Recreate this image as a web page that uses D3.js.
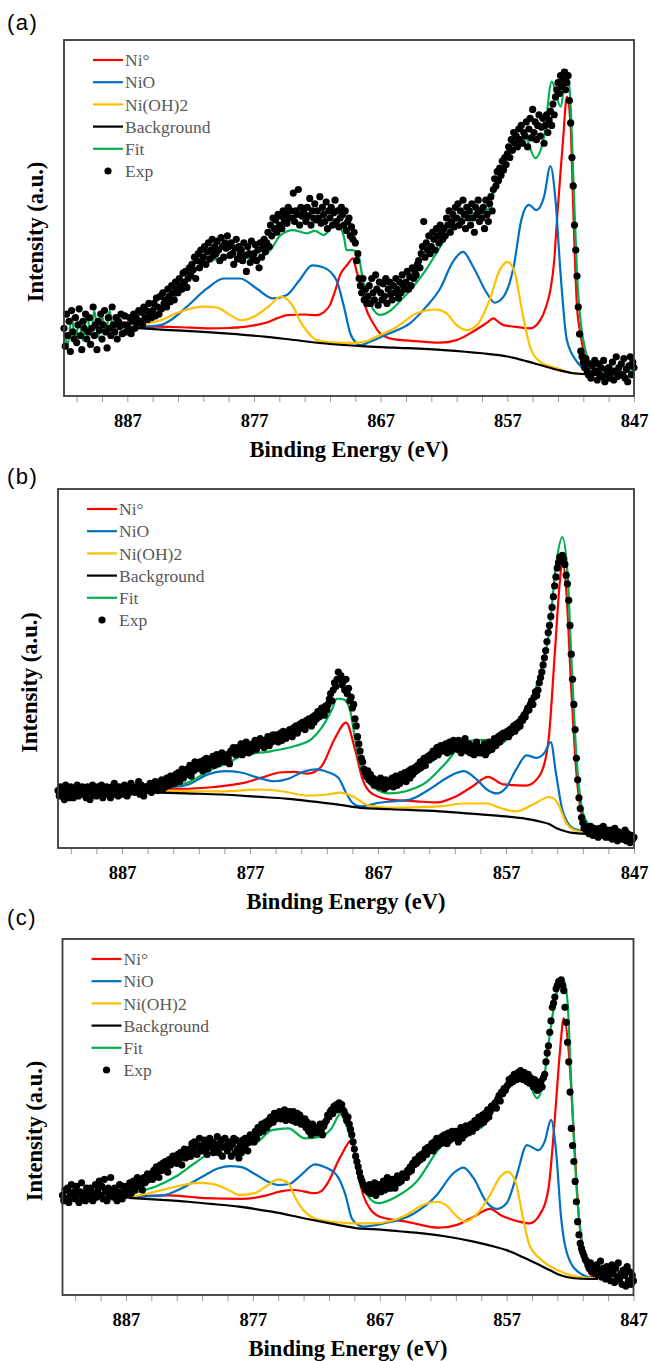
<!DOCTYPE html>
<html>
<head>
<meta charset="utf-8">
<script src="https://cdn.jsdelivr.net/npm/d3@7"></script>
<style>
  body { margin: 0; background: #fff; }
  svg text { font-family: "Liberation Serif", serif; }
  svg text.panel-label { font-family: "Liberation Sans", sans-serif; }
  svg .tick text { font-family: "Liberation Serif", serif; font-weight: bold; }
</style>
</head>
<body>
<div id="chart"></div>
<script>
// Ni 2p XPS fits, three samples (a), (b), (c)
// intensities are in arbitrary units, 0 = bottom of the frame, 100 = top

var seriesNames = ["Ni°", "NiO", "Ni(OH)2", "Background", "Fit", "Exp"]
var seriesColors = ["#ff0000", "#0070c0", "#ffc000", "#000000", "#00b050", "#000000"]

var xDomain = [892, 847]
var minorTicks = [891, 889, 887, 885, 883, 881, 879, 877, 875, 873, 871, 869, 867, 865, 863, 861, 859, 857, 855, 853, 851, 849, 847]
var majorTicks = [887, 877, 867, 857, 847]

// measured points start at 892.0 eV and go down in 0.1 eV steps (451 points)
var expStart = 892.0
var expStep = 0.1

// ---------- panel (a) ----------
var niA = [[886.5,19.3],[884.5,19.5],[882,19.2],[880.5,19.0],[879,19.1],[877.8,19.4],[876.8,20.0],[876,20.6],[875.2,21.8],[874.4,22.7],[873,22.9],[872.1,22.7],[871.5,23.5],[871,25.6],[870.6,29.5],[870.2,34.0],[869.6,37.0],[869.2,38.7],[868.9,35.0],[868.5,30.0],[868.2,25.1],[867.6,20.5],[867.05,17.6],[866.3,16.2],[865,15.6],[863.5,15.2],[862.3,15.0],[861,15.7],[859.7,18.1],[858.6,20.6],[858.1,21.8],[857.7,20.8],[857.3,19.9],[856.5,19.5],[855.2,19.0],[854.4,21.3],[854,24.5],[853.6,29.8],[853.3,38],[853.1,48.5],[852.8,63],[852.6,71.9],[852.3,84.1],[852.0,75.6],[851.8,53.2],[851.5,25.1],[851.2,17],[851.0,12.9],[850.6,9.5],[850.2,7.3],[849.8,6.2]]
var nioA = [[886.3,19.4],[885.3,19.6],[884.4,19.9],[883.5,21.5],[882.3,25.1],[880.7,30.2],[879.4,33.0],[878.1,33.0],[876.8,30.2],[875.5,27.4],[874.4,28.4],[873.4,32.6],[872.4,36.7],[871.5,36.1],[870.5,32.6],[869.9,25.1],[869.4,17.6],[868.9,14.8],[868.6,14.3],[867.8,15.3],[866.3,17.6],[864.7,20.4],[863.4,25.1],[862.3,30.2],[861.3,37.7],[860.5,40.5],[859.7,36.3],[858.6,28.8],[858.0,26.2],[857.3,27.9],[856.5,36.3],[855.9,49.4],[855.3,53.7],[854.7,52.2],[854.1,56.0],[853.6,64.6],[853.2,55.1],[852.8,34.5],[852.3,15.7],[851.5,9.6],[850.5,6.8],[849.8,6.2]]
var nioh2A = [[886.5,19.4],[885.5,20.3],[884.4,21.3],[882.8,23.7],[881.0,25.1],[879.9,24.8],[879,23.0],[878.0,21.3],[876.8,22.7],[875.7,25.6],[874.9,27.9],[873.9,25.1],[873.4,21.3],[872.8,18.1],[872.05,15.7],[870.5,15.0],[869,14.9],[868,15.5],[867.6,16.2],[865.7,19.5],[864.2,23.2],[862.6,24.3],[861.8,23.2],[861.0,19.9],[860.2,18.5],[859.4,19.9],[858.4,27.0],[857.6,35.4],[857.0,37.7],[856.4,34.5],[855.9,25.1],[855.2,13.8],[854.4,9.6],[853.1,7.8],[851.8,6.4],[849.8,6.0]]
var bgA = [[886.8,19.2],[884,18.6],[881,18.0],[879,17.5],[876,16.6],[874,15.8],[871,14.6],[868.5,14.0],[866,13.6],[862,12.9],[859,12.0],[857,11.1],[855.5,9.8],[854.4,8.7],[853,7.3],[851.8,6.4],[850.5,6.1],[849.8,6.0]]
var fitA = [[892,19],[891.7,14.5],[891.4,22],[891.1,16],[890.8,21],[890.5,15.5],[890.2,23.5],[889.9,17],[889.6,24],[889.3,16.5],[889,22.5],[888.7,17.5],[888.4,24],[888.1,18],[887.8,21],[887.5,19.5],[887.2,20],[886.8,19.2],[885,22.3],[883.7,26.0],[882.8,29.8],[881.3,36.3],[880.2,38.2],[878.6,39.1],[877.0,38.7],[875.7,41.0],[874.9,45.2],[873.9,46.6],[872.8,45.7],[872.2,46.4],[871.5,45.2],[870.5,48.5],[869.9,44.7],[869.7,41.0],[869.2,41.0],[868.8,40.1],[868.4,32.6],[867.7,25.1],[867.05,22.8],[864.9,28.8],[863.6,34.5],[862.3,41.9],[861.0,49.4],[859.7,51.3],[858.6,52.2],[857.8,60.7],[857.05,68.2],[856.5,71.9],[855.6,72.8],[854.8,66.8],[854.1,72.8],[853.5,88.3],[852.8,81.3],[852.3,91.6],[852.0,81.3],[851.8,62.5],[851.5,34.5],[851.0,15.7],[850.2,7.8],[849.1,6.8],[848.7,8],[848.4,5.5],[848.1,7.5],[847.8,5],[847.5,8.5],[847.2,6],[847,7]]
var expA = [
  19, 14, 23, 17, 21, 12.5, 24, 18, 16, 22,
  15, 20, 24.5, 17, 13, 21, 19, 23, 16, 18,
  22, 14.5, 19, 25, 17, 20, 13, 21, 18.5, 23,
  16, 20, 24, 18, 13.5, 22, 19, 17, 25, 20,
  18, 22, 16, 21, 19.5, 23, 17.5, 20, 22.5, 18,
  20, 19, 22, 17.5, 21, 23, 19, 22, 20.5, 24,
  21, 23.5, 20, 25, 22, 24, 21.5, 26, 23, 22,
  24, 26, 22.5, 27.5, 25, 23, 28, 24.5, 29, 26,
  27, 25, 30, 28, 26.5, 31, 29, 27, 32, 30,
  29, 33, 31, 30, 34.5, 32, 35, 30.5, 33, 36,
  34, 37, 35.5, 39, 33, 38, 40, 36, 41, 37.5,
  39, 42, 37, 40.5, 43, 38.5, 41, 44, 39.5, 42,
  40, 43.5, 41, 38, 44.5, 42, 39, 43, 41.5, 45,
  42, 39.5, 43, 40, 37, 41.5, 44, 38.5, 42, 40,
  41, 38, 43, 39.5, 35, 42, 40, 37.5, 43.5, 39,
  40, 42.5, 38, 41, 36, 43, 39, 41.5, 44, 40.5,
  43, 46, 42, 48, 45, 50, 47, 49.5, 46, 51,
  48, 50.5, 47, 52, 49, 51, 48.5, 53, 50, 52,
  50, 57, 49, 52, 51, 58, 48, 53, 50.5, 52,
  51, 49, 53, 50.5, 55.5, 48, 52, 50, 54, 49.5,
  52, 50, 56, 48.5, 53, 51, 49, 54.5, 47, 52,
  50, 53, 48, 51.5, 55, 49, 52, 47.5, 50, 53,
  51, 48, 52, 46.5, 49, 50, 45, 47.5, 44, 46,
  43, 38, 40, 33, 31, 29, 33, 27, 30, 26,
  28, 31, 26, 33, 29, 27, 34, 30, 25.5, 32,
  29, 27, 31.5, 28, 33, 26, 30, 32, 28.5, 27,
  31, 29, 33, 30, 27.5, 32, 29, 34, 31, 30,
  32, 35, 30, 33.5, 31, 36, 33, 35, 34, 37,
  38, 36, 40, 42, 49, 39, 43, 41, 45, 40,
  42, 46, 44, 41, 47, 45, 43, 48, 46, 44,
  47, 45, 50, 48, 52, 46, 49, 51, 47.5, 53,
  50, 54, 48, 52, 49, 55, 51, 47, 53, 50,
  52, 48, 54, 50, 46, 53, 51, 55, 49, 52,
  50, 53, 47, 55, 51, 49, 54, 56, 52, 58,
  61, 59, 63, 60.5, 64, 62, 66, 63.5, 67, 65,
  68, 70, 67, 72, 69, 74, 71, 73, 70, 75,
  72, 76, 71, 74, 73, 77, 70, 75, 78, 72.5,
  80.5, 74, 77, 72, 76, 79, 73, 75.5, 78, 71,
  76, 79, 74, 77.5, 80, 76, 82, 79, 84, 86,
  88, 85, 90, 87, 89, 91, 86, 88, 90, 83,
  76.7, 67, 59, 48, 41, 33.7, 25, 17.4, 12.6, 11,
  9.5, 8, 10.5, 7, 6, 9, 5, 8.5, 6.5, 10,
  7, 4.5, 9, 6, 8, 5.5, 10, 4, 7.5, 6,
  8, 5, 6.5, 9.5, 4.5, 7, 11, 5.5, 8, 6,
  9, 6, 10.5, 5, 7.5, 4, 8.5, 11, 6, 9.5,
  8]

// ---------- panel (b) ----------
var niB = [[884,16.6],[882.4,16.5],[879.8,17.0],[877.4,18.2],[876.1,19.6],[874.5,21.1],[873.5,21.2],[872.5,20.7],[871.9,21.3],[871.4,22.8],[870.4,30.3],[869.5,34.9],[868.8,27.5],[868.2,19.1],[867.5,15.2],[866.1,13.5],[864,13.0],[862.4,12.7],[860.9,14.4],[859.6,17.2],[858.4,19.8],[857.2,17.7],[855.4,17.4],[854.4,20.0],[853.7,29.3],[853.2,53.5],[852.8,74.0],[852.6,80.1],[852.3,72.2],[851.9,44.2],[851.5,20.9],[851.0,7.9],[850.5,4.5],[849.8,4.0]]
var nioB = [[884,16.6],[883,17.0],[881.8,17.7],[880.3,20.5],[878.9,21.4],[877.8,21.1],[876.4,19.6],[875.1,18.6],[874.0,19.3],[873.0,21.0],[871.8,21.9],[870.9,21.1],[870.1,19.6],[869.5,15.4],[869.0,12.6],[868.4,11.6],[866.9,12.6],[864.5,13.5],[863.0,16.3],[861.4,20.0],[860.3,21.4],[859.3,19.1],[858.5,16.3],[857.7,15.2],[857.0,16.8],[856.2,21.9],[855.4,25.8],[854.6,25.1],[854.0,26.5],[853.5,29.5],[853.1,20.9],[852.6,10.7],[851.8,5.6],[850.7,4.5],[849.8,4.0]]
var nioh2B = [[884,15.9],[881,15.8],[879.2,15.8],[876.1,16.3],[874.5,15.8],[872.5,14.6],[870.9,14.9],[869.9,15.4],[869.0,14.4],[867.7,11.8],[866.1,11.2],[862.2,11.6],[860.2,12.4],[858.5,12.4],[857.5,11.2],[856.2,10.2],[854.9,12.1],[853.6,14.2],[852.9,12.1],[852.3,7.0],[851.5,4.8],[849.8,4.0]]
var bgB = [[884.8,15.5],[882,15.2],[879.2,14.9],[876.5,14.3],[874,13.7],[872,12.9],[870.1,12.1],[868.4,11.2],[866,10.8],[862.2,10.2],[859.5,9.5],[857,8.8],[855.5,8.2],[854.4,7.4],[853.6,6.6],[853.1,5.6],[852.3,4.6],[851.8,4.2],[850.5,3.9],[849.8,3.9]]
var fitB = [[892,15.8],[890,15.6],[888,15.9],[886,15.7],[884.7,16.0],[883.5,17.0],[881.8,18.3],[880.0,21.9],[878.7,23.7],[877.7,25.6],[875.3,27.0],[873.5,28.4],[872.2,30.3],[871.4,33.5],[870.6,38.6],[870.2,41.6],[869.7,41.4],[869.2,38.6],[868.7,28.4],[868.1,20.0],[867.1,16.3],[866.1,15.2],[863.5,17.7],[861.7,23.7],[860.1,29.8],[858.5,30.1],[857.7,28.6],[856.7,31.2],[855.8,36.8],[855.1,40.0],[854.4,47.9],[853.6,61.0],[853.1,78.7],[852.6,86.6],[852.2,76.8],[851.9,53.5],[851.5,25.6],[850.9,8.8],[850.2,5.6],[849,4],[848,3.5],[847,3.2]]
var expB = [
  16, 14.5, 17, 15, 16.5, 13.5, 17.5, 15, 16, 14,
  17, 15.5, 14, 16.5, 15, 17.5, 14.5, 16, 15.5, 17,
  15, 16.5, 14, 17, 15.5, 13.5, 16, 17.5, 15, 16,
  14.5, 17, 16, 15, 17.5, 14, 16.5, 15, 17, 16,
  15.5, 14, 17, 16, 18, 15, 16.5, 14.5, 17, 15.5,
  16.5, 15, 17.5, 16, 14.5, 17, 15.5, 18, 16, 17,
  15.5, 17, 16, 18.5, 15, 17.5, 16.5, 14.5, 17, 16,
  17, 16, 18, 15.5, 17.5, 16.5, 18.5, 17, 16, 18,
  17.5, 19, 16.5, 18, 17, 19.5, 18, 17.5, 20, 18.5,
  19, 18, 20.5, 19.5, 21, 18.5, 20, 22, 19.5, 21,
  20.5, 22, 21, 23, 20, 22.5, 21.5, 24, 22, 23,
  22.5, 24, 23, 21.5, 24.5, 23, 25, 22, 24, 23.5,
  24, 25.5, 23, 24.5, 26, 23.5, 25, 24, 26.5, 25,
  25.5, 24, 26, 25, 23.5, 27, 26.5, 28, 27.5, 26,
  28, 26.5, 27.5, 29, 26, 28, 27, 29.5, 28, 26.5,
  28.5, 27, 29, 28, 30, 27.5, 29, 28.5, 30.5, 29,
  29.5, 28, 30, 29, 31, 28.5, 30.5, 29.5, 31.5, 30,
  30.5, 31.5, 29.5, 31, 32, 30, 32.5, 31, 30.5, 32,
  31.5, 33, 32, 31, 33.5, 32.5, 34, 32, 33, 34.5,
  33.5, 35, 34, 33, 35.5, 34.5, 36, 35, 34, 36.5,
  35, 37, 36, 38, 36.5, 37.5, 39, 38, 37, 39.5,
  38.5, 40, 41.5, 43, 41, 44, 46, 45, 47, 49,
  47, 48, 45.5, 46.5, 44, 47, 43, 44.5, 41, 42,
  39, 40, 36, 34, 31, 29, 27, 25, 24, 22,
  21, 20, 21.5, 19, 20.5, 18.5, 19.5, 17.5, 19, 18,
  18.5, 17, 19.5, 17.5, 18, 16.5, 19, 17, 18.5, 17.5,
  18, 19.5, 17, 18.5, 20, 17.5, 19, 18, 20.5, 19,
  19.5, 21, 18.5, 20, 21.5, 19.5, 22, 20.5, 21, 22.5,
  21.5, 23, 22, 24, 22.5, 23.5, 25, 23, 24.5, 25.5,
  24.5, 26, 25, 27, 25.5, 26.5, 28, 26, 27.5, 28.5,
  27, 28.5, 27.5, 29, 26.5, 28, 29.5, 27, 28.5, 30,
  28, 29.5, 27.5, 30, 28.5, 26.5, 29, 27.5, 30.5, 28,
  27, 29, 26.5, 28.5, 27.5, 26, 28, 29.5, 27, 26.5,
  28, 26.5, 27.5, 29, 26, 28, 27, 29.5, 28.5, 27.5,
  29, 30.5, 28.5, 30, 31, 29.5, 31.5, 30.5, 32, 31,
  31.5, 32.5, 31, 33, 32, 33.5, 34, 32.5, 34.5, 33.5,
  35, 34, 36, 35.5, 37, 36.5, 38, 39, 38.5, 40,
  41, 40, 42, 43.5, 42.5, 44, 46, 47.5, 49, 51,
  53, 55, 57.5, 60, 62, 64.5, 67, 70, 73, 75.5,
  78, 79.5, 81, 80, 81.5, 80.5, 79, 76, 73.6, 69,
  62, 54, 47, 40, 33, 25, 19, 14, 11, 8.5,
  7, 5.5, 6, 4.5, 5.5, 4, 6, 5, 3.5, 5.5,
  4, 5, 3, 5.5, 4.5, 3.5, 6, 4, 3, 5,
  4.5, 3, 5, 2.5, 4, 5.5, 3.5, 2, 4.5, 3,
  4, 2.5, 3.5, 5, 2, 4, 3, 1.5, 3.5, 2.5,
  3]

// ---------- panel (c) ----------
var niC = [[886.5,27.6],[885,27.9],[883.7,28.0],[882,27.6],[880.8,27.2],[877.9,27.0],[876.0,27.9],[874.7,29.2],[873.7,29.5],[872.1,28.6],[871.6,29.2],[871.2,30.9],[870.1,38.8],[869.2,43.5],[868.8,35.6],[868.3,28.1],[867.8,24.4],[867.0,22.0],[864.9,20.6],[862.3,18.9],[860.9,19.7],[859.6,22.0],[858.3,24.2],[857.5,22.5],[856.2,20.8],[855.2,20.1],[854.4,22.5],[853.7,30.0],[853.2,49.6],[852.8,68.3],[852.5,77.7],[852.1,68.3],[851.7,44.9],[851.3,21.5],[850.8,9.4],[850.2,5.1],[849.8,4.7]]
var nioC = [[886.5,27.5],[885.5,27.7],[884.2,27.9],[882.6,30.0],[881.0,33.2],[879.7,35.6],[878.8,36.2],[877.9,35.9],[876.8,33.9],[875.8,31.8],[875.0,30.9],[874.2,31.1],[873.2,33.7],[872.1,36.7],[871.3,35.9],[870.3,33.2],[869.7,28.1],[869.2,21.5],[868.6,19.5],[868.3,19.2],[866.7,20.1],[864.4,22.7],[862.5,28.1],[861.2,34.2],[860.4,35.8],[859.6,32.8],[858.6,26.2],[857.8,24.2],[857.0,25.8],[856.2,33.7],[855.4,42.1],[854.5,40.7],[854.0,43.1],[853.5,49.2],[853.1,40.3],[852.7,21.5],[852.0,9.4],[851.2,6.1],[850.2,4.8],[849.8,4.6]]
var nioh2C = [[886.5,27.6],[884.7,29.0],[883.1,30.4],[881.3,31.5],[880.2,31.2],[879.2,30.0],[878.0,28.1],[876.8,28.7],[875.8,30.9],[875.0,32.5],[874.2,31.4],[873.7,27.6],[872.9,23.4],[872.1,21.5],[870.3,20.4],[868.9,20.1],[867.5,20.1],[864.9,22.5],[863.6,25.3],[862.5,26.2],[861.8,25.3],[860.9,22.0],[860.3,20.6],[859.4,22.5],[858.3,28.1],[857.5,33.2],[856.9,34.6],[856.3,31.8],[855.7,21.5],[855.2,14.0],[854.4,10.3],[853.0,7.0],[851.7,5.3],[849.8,4.6]]
var bgC = [[886.8,27.3],[884.5,26.8],[882.1,26.2],[880,25.5],[878.1,24.8],[875.5,23.4],[872.9,21.5],[870.3,19.7],[868.9,18.8],[867.5,18.5],[865.5,17.9],[863.6,17.3],[861.5,16.3],[859.6,15.0],[858.2,13.8],[857.0,12.6],[855.7,10.6],[854.4,8.4],[853.5,6.8],[852.8,5.6],[851.7,4.7],[850.5,4.5],[849.8,4.5]]
var fitC = [[892,27.8],[890,27.6],[888,27.8],[886.8,27.9],[886.3,28.6],[884.7,30.4],[883.1,33.2],[881.6,37.0],[880.2,40.3],[878.4,41.7],[876.8,42.6],[875.5,46.3],[874.2,46.8],[872.9,44.0],[871.6,44.5],[870.8,46.8],[870.1,50.8],[869.6,47.3],[869.1,42.1],[868.6,33.7],[867.8,27.2],[867.1,25.8],[865.7,27.6],[864.1,31.8],[862.3,41.2],[861.2,44.9],[860.4,46.6],[859.1,46.8],[858.3,50.6],[857.5,55.3],[856.7,59.5],[855.9,61.8],[855.3,59.9],[854.6,55.3],[854.1,59.9],[853.6,73.0],[853.1,84.3],[852.5,88.5],[852.2,82.4],[851.9,59.0],[851.5,30.9],[850.9,12.2],[850.0,5.3],[848.0,3.4],[847,3.0]]
var expC = [
  28, 26.5, 29.5, 27, 30, 26, 28.5, 31, 27.5, 29,
  27, 30.5, 28, 26, 29, 31.5, 27.5, 28.5, 26.5, 30,
  28.5, 27, 30, 29, 26.5, 28, 31, 27.5, 29.5, 32,
  28, 30.5, 27, 32.5, 29, 26.5, 30, 28, 33, 29.5,
  27.5, 30, 28.5, 26.5, 29, 31, 28, 27, 30.5, 29,
  28, 30.5, 29, 31.5, 28.5, 30, 32, 29.5, 31, 33,
  30.5, 32.5, 31, 29.5, 33, 31.5, 32, 34, 32.5, 33.5,
  34, 32.5, 35, 33.5, 36, 34.5, 33, 36.5, 35, 37,
  35.5, 37.5, 36, 34.5, 38, 36.5, 37, 39, 37.5, 38.5,
  37, 39.5, 38, 40, 36.5, 39, 41, 38.5, 40.5, 39,
  41, 39, 42.5, 40, 43, 41.5, 39.5, 42, 44, 40.5,
  42, 40.5, 43.5, 41, 39.5, 42.5, 44, 41.5, 43, 40,
  42.5, 41, 44.5, 40, 42, 43.5, 39, 41.5, 44, 42,
  40.5, 43, 41.5, 39, 42.5, 44, 40, 43.5, 41, 38.5,
  42, 40, 43.5, 41.5, 44, 42.5, 40.5, 43, 45, 44,
  44.5, 43, 46, 44, 47, 45.5, 46.5, 48, 46, 47.5,
  48.5, 47, 49, 48, 50, 49.5, 48.5, 51, 49.5, 50.5,
  50, 51.5, 49.5, 51, 50.5, 52, 49, 51, 50, 51.5,
  50.5, 49, 51.5, 50, 48.5, 51, 49.5, 50.5, 48, 49.5,
  48, 49.5, 47, 48.5, 46, 47.5, 45, 48, 46.5, 47,
  45.5, 47, 46, 48, 46.5, 45, 47.5, 48.5, 49, 50.5,
  50, 51.5, 52, 51, 53, 52.5, 53.5, 52, 54, 53,
  53.5, 52, 51.5, 50.5, 49, 50, 48, 46.5, 45, 43,
  41, 39, 37.5, 36, 34.5, 33, 32, 31, 30.5, 29.5,
  30, 29, 31, 28.5, 30.5, 29, 31.5, 28, 30, 29.5,
  31, 29, 30.5, 32, 29.5, 31, 33, 30, 31.5, 30,
  32.5, 31, 30, 32, 33.5, 31.5, 33, 32, 34, 33,
  34, 33, 35, 34.5, 36, 35, 37, 36.5, 38, 37,
  37.5, 39, 38, 39.5, 38.5, 40, 41, 39.5, 41.5, 40.5,
  41, 42.5, 40.5, 43, 41.5, 44, 42, 43.5, 42.5, 44.5,
  43, 45, 44, 42.5, 45.5, 43.5, 44.5, 46, 44, 45,
  46, 44.5, 43, 45.5, 47, 44, 46.5, 45, 47.5, 46,
  45.5, 47, 48, 46, 47.5, 49, 47, 48.5, 50, 48,
  49, 50.5, 48.5, 51, 49.5, 52, 50, 51.5, 53, 52.5,
  53.5, 54, 52.5, 55, 56, 54.5, 57, 56.5, 58, 57.5,
  58.5, 59, 60.5, 59.5, 61, 60, 62, 61.5, 60.5, 62.5,
  61, 63, 62, 60.5, 62.5, 61.5, 60, 62, 59.5, 61,
  60, 58.5, 60.5, 59, 57.5, 59.5, 58, 60, 58.5, 61,
  62, 65.5, 68, 70, 73.8, 77, 80.8, 82, 83.7, 86,
  87, 88, 87.5, 88.5, 87, 85.5, 80.8, 76.6, 71, 65.5,
  57, 46.8, 42, 37.5, 31.9, 26.2, 20.6, 16.9, 14.5, 13,
  12, 11, 10, 9.5, 8.4, 7.5, 9, 6.5, 8, 7,
  6, 8.5, 5.5, 7, 9.5, 5, 7.5, 6.5, 4.5, 8,
  5.5, 7, 4, 8.5, 6, 3.5, 7.5, 5, 9, 4.5,
  6, 3, 7, 5.5, 2.5, 8, 4, 6.5, 3, 5.5,
  4]

// frame boxes
var panels = [
  { label: "(a)", labelY: 30, left: 64, right: 634, top: 40, bottom: 396,
    lines: [niA, nioA, nioh2A, bgA, fitA], exp: expA },
  { label: "(b)", labelY: 484, left: 58, right: 634, top: 489, bottom: 848,
    lines: [niB, nioB, nioh2B, bgB, fitB], exp: expB },
  { label: "(c)", labelY: 925, left: 62.5, right: 633.5, top: 939, bottom: 1295,
    lines: [niC, nioC, nioh2C, bgC, fitC], exp: expC }
]

var svg = d3.select("#chart").append("svg")
  .attr("width", 651).attr("height", 1361)
  .style("background", "#fff")

panels.forEach(function(p) { drawPanel(svg, p) })

function drawPanel(svg, p) {
  var x = d3.scaleLinear().domain(xDomain).range([p.left, p.right])
  var y = d3.scaleLinear().domain([0, 100]).range([p.bottom, p.top])

  // panel letter
  svg.append("text")
    .attr("class", "panel-label")
    .attr("x", 7).attr("y", p.labelY)
    .style("font-size", "22px")
    .style("letter-spacing", "1.5px")
    .text(p.label)

  // x axis, small ticks every 2 eV, labels only on the big ones
  var xAxis = d3.axisBottom(x)
    .tickValues(minorTicks)
    .tickSize(6)
    .tickSizeOuter(0)
    .tickFormat(function(d) { return majorTicks.indexOf(d) >= 0 ? d : "" })

  var gx = svg.append("g")
    .attr("transform", "translate(0," + p.bottom + ")")
    .call(xAxis)
    .attr("font-family", null)
    .attr("font-size", null)
  gx.select(".domain").remove()
  gx.selectAll(".tick line").attr("stroke", "#9a9a9a").attr("stroke-width", 1)
  gx.selectAll(".tick text")
    .attr("y", 31).attr("dy", 0)
    .style("font-size", "18.5px")
    .attr("fill", "#000")

  // axis titles
  svg.append("text")
    .attr("x", (p.left + p.right) / 2).attr("y", p.bottom + 61)
    .attr("text-anchor", "middle")
    .style("font-weight", "bold").style("font-size", "22.5px")
    .text("Binding Energy (eV)")

  var yc = (p.top + p.bottom) / 2 + 14
  svg.append("text")
    .attr("transform", "translate(" + (p.left - 28.5) + "," + yc + ") rotate(-90)")
    .attr("text-anchor", "middle")
    .attr("dy", "0.35em")
    .style("font-weight", "bold").style("font-size", "22.5px")
    .text("Intensity (a.u.)")

  // fitted components, background and fit
  var line = d3.line()
    .x(function(d) { return x(d[0]) })
    .y(function(d) { return y(d[1]) })
    .curve(d3.curveMonotoneX)

  var gLines = svg.append("g")
  p.lines.forEach(function(s, i) {
    gLines.append("path")
      .attr("d", line(s))
      .attr("fill", "none")
      .attr("stroke", seriesColors[i])
      .attr("stroke-width", 2.2)
      .attr("stroke-linejoin", "round")
  })

  // measured points
  svg.append("g").selectAll("circle")
    .data(p.exp)
    .enter().append("circle")
    .attr("cx", function(d, i) { return x(expStart - i * expStep) })
    .attr("cy", function(d) { return y(d) })
    .attr("r", 3.6)
    .attr("fill", seriesColors[5])

  // frame
  svg.append("rect")
    .attr("x", p.left).attr("y", p.top)
    .attr("width", p.right - p.left).attr("height", p.bottom - p.top)
    .attr("fill", "none")
    .attr("stroke", "#3a3a3a")
    .attr("stroke-width", 1.8)

  // legend
  var lg = svg.append("g").attr("transform", "translate(" + p.left + "," + p.top + ")")
  seriesNames.forEach(function(name, i) {
    var ly = 20 + i * 22.2
    if (name == "Exp") {
      lg.append("circle").attr("cx", 44).attr("cy", ly).attr("r", 3.6).attr("fill", seriesColors[i])
    } else {
      lg.append("line")
        .attr("x1", 29).attr("x2", 59).attr("y1", ly).attr("y2", ly)
        .attr("stroke", seriesColors[i]).attr("stroke-width", 2.2)
    }
    lg.append("text")
      .attr("x", 61).attr("y", ly)
      .attr("dy", "0.35em")
      .style("font-size", "17.5px")
      .attr("fill", "#595959")
      .text(name)
  })
}
</script>
</body>
</html>
